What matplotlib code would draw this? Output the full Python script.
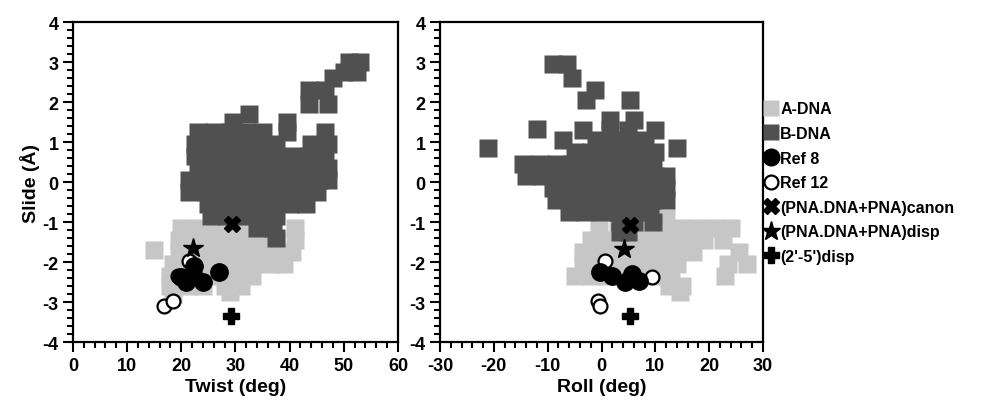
import numpy as np
import matplotlib
matplotlib.use("Agg")
import matplotlib.pyplot as plt
from matplotlib.lines import Line2D

plt.rcParams['font.family'] = ['Liberation Sans', 'DejaVu Sans']
plt.rcParams['font.weight'] = 'bold'
plt.rcParams['axes.unicode_minus'] = False

# ---- left panel: (twist, slide) ----
adna_left = [(20, -1.15), (23, -1.15), (26, -1.15), (29, -1.15), (32, -1.15), (35, -1.15), (41, -1.15),
             (19.5, -1.45), (22.5, -1.45), (25.5, -1.45), (28.5, -1.45), (31.5, -1.45), (34.5, -1.45),
             (37.5, -1.45), (41, -1.45),
             (15, -1.7), (19.5, -1.75), (22.5, -1.75), (25.5, -1.75), (28.5, -1.75), (31.5, -1.75),
             (34.5, -1.75), (37.5, -1.75), (40.5, -1.75),
             (18.5, -2.05), (21.5, -2.05), (24.5, -2.05), (27.5, -2.05), (30.5, -2.05), (33.5, -2.05),
             (36.5, -2.05), (39, -2.05),
             (18, -2.35), (21, -2.35), (24, -2.35), (27, -2.35), (30, -2.35), (33, -2.35),
             (18, -2.6), (21, -2.6), (24, -2.6), (28, -2.6), (31, -2.6),
             (18.5, -2.8), (29, -2.75)]

bdna_left = [(51, 3.0), (53, 3.0), (50, 2.75), (52.5, 2.75), (48, 2.6),
             (43.5, 2.3), (46.5, 2.3), (43.5, 1.95), (47, 1.95),
             (32.5, 1.7), (29.5, 1.5), (39.5, 1.5),
             (23, 1.25), (26, 1.25), (29, 1.25), (32, 1.25), (35, 1.25), (39.5, 1.25), (46.5, 1.25),
             (22.5, 0.95), (25.5, 0.95), (28.5, 0.95), (31.5, 0.95), (34.5, 0.95), (37.5, 0.95),
             (44, 0.95), (47, 0.95),
             (22.5, 0.65), (25.5, 0.65), (28.5, 0.65), (31.5, 0.65), (34.5, 0.65), (37.5, 0.65),
             (40.5, 0.65), (43.5, 0.65), (46.5, 0.65),
             (23, 0.35), (26, 0.35), (29, 0.35), (32, 0.35), (35, 0.35), (38, 0.35), (41, 0.35),
             (44, 0.35), (47, 0.35),
             (21.5, 0.05), (24.5, 0.05), (27.5, 0.05), (30.5, 0.05), (33.5, 0.05), (36.5, 0.05),
             (39.5, 0.05), (42.5, 0.05), (45.5, 0.05), (47, 0.05),
             (21.5, -0.25), (24.5, -0.25), (27.5, -0.25), (30.5, -0.25), (33.5, -0.25), (36.5, -0.25),
             (39.5, -0.25), (42.5, -0.25), (45, -0.25),
             (25, -0.55), (28, -0.55), (31, -0.55), (34, -0.55), (37, -0.55), (40, -0.55), (43, -0.55),
             (25.5, -0.85), (28.5, -0.85), (31.5, -0.85), (34.5, -0.85), (37.5, -0.85),
             (34, -1.15), (37, -1.15), (37.5, -1.4)]

ref8_left = [(19.9, -2.38), (22.2, -2.3), (24, -2.5), (20.9, -2.5), (27, -2.25), (22.4, -2.1)]
ref12_left = [(16.8, -3.1), (18.4, -2.97), (19.4, -2.35), (21.4, -1.98)]
canon_left = [(29.3, -1.05)]
disp_left = [(22.2, -1.65)]
p25_left = [(29.2, -3.35)]

# ---- right panel: (roll, slide) ----
adna_right = [(12, -0.9),
              (-0.5, -1.15), (3, -1.15), (6, -1.15), (9, -1.15), (12, -1.15), (15, -1.15), (18, -1.15),
              (21, -1.15), (24, -1.15),
              (-2, -1.45), (1, -1.45), (4, -1.45), (7, -1.45), (10, -1.45), (13, -1.45), (16, -1.45),
              (19, -1.45), (22.5, -1.45),
              (-3.5, -1.75), (-0.5, -1.75), (2, -1.75), (5, -1.75), (8, -1.75), (11, -1.75), (14, -1.75),
              (17, -1.75), (25.5, -1.75),
              (-3.5, -2.05), (-1, -2.05), (2, -2.05), (5, -2.05), (8, -2.05), (11, -2.05), (14, -2.05),
              (23.5, -2.05), (27, -2.05),
              (-5, -2.35), (-2, -2.35), (1, -2.35), (4, -2.35), (7, -2.35), (10, -2.35), (13, -2.35),
              (23, -2.35),
              (12.5, -2.6), (15, -2.6), (14.5, -2.75)]

bdna_right = [(-9, 2.95), (-6.5, 2.95), (-5.5, 2.6), (-1.2, 2.3), (-2.9, 2.05), (5.3, 2.05),
              (1.5, 1.55), (6, 1.55),
              (-12, 1.33), (-3.5, 1.3), (1.5, 1.3), (5, 1.3), (10, 1.3),
              (-7.2, 1.05), (-1, 1.05), (2, 1.05), (5, 1.05), (8, 1.05),
              (-21, 0.85), (14, 0.85),
              (-5, 0.75), (-2, 0.75), (1, 0.75), (4, 0.75), (7, 0.75), (10, 0.75),
              (-14.5, 0.45), (-11.5, 0.45), (-8.5, 0.45), (-5.5, 0.45), (-2.5, 0.45), (0.5, 0.45),
              (3.5, 0.45), (6.5, 0.45), (9.5, 0.45),
              (-14, 0.15), (-11, 0.15), (-8, 0.15), (-5, 0.15), (-2, 0.15), (1, 0.15), (4, 0.15),
              (7, 0.15), (10, 0.15), (12, 0.15),
              (-9, -0.15), (-6, -0.15), (-3, -0.15), (0, -0.15), (3, -0.15), (6, -0.15), (9, -0.15),
              (12, -0.15),
              (-8.5, -0.45), (-5.5, -0.45), (-2.5, -0.45), (0.5, -0.45), (3.5, -0.45), (6.5, -0.45),
              (9.5, -0.45), (12, -0.45),
              (-6, -0.75), (-3, -0.75), (0, -0.75), (3, -0.75), (6, -0.75), (9, -0.75),
              (3.5, -1.0), (6, -1.0), (9.5, -1.0), (3.5, -1.25), (5, -1.25)]

ref8_right = [(-0.3, -2.25), (1.9, -2.35), (5.6, -2.3), (7, -2.47), (4.4, -2.5)]
ref12_right = [(0.6, -1.97), (9.4, -2.38), (-0.6, -2.97), (-0.2, -3.1)]
canon_right = [(5.3, -1.08)]
disp_right = [(4.1, -1.67)]
p25_right = [(5.3, -3.35)]

A_COL = '#c6c6c6'
B_COL = '#505050'
SQ = 13


def xy(pts):
    a = np.array(pts, dtype=float)
    return a[:, 0], a[:, 1]


def draw(ax, adna, bdna, ref8, ref12, canon, disp, p25):
    ax.plot(*xy(adna), 's', color=A_COL, ms=SQ, mec='none')
    ax.plot(*xy(bdna), 's', color=B_COL, ms=SQ, mec='none')
    ax.plot(*xy(ref12), 'o', mfc='white', mec='black', mew=1.6, ms=10)
    ax.plot(*xy(ref8), 'o', color='black', ms=12.5)
    ax.plot(*xy(canon), 'X', color='black', ms=12)
    ax.plot(*xy(disp), '*', color='black', ms=15)
    ax.plot(*xy(p25), 'P', color='black', ms=12)


def style(ax, xlim, xmajor, xlabel):
    ax.set_xlim(*xlim)
    ax.set_ylim(-4, 4)
    ax.set_xticks(np.arange(xlim[0], xlim[1] + 1, xmajor))
    ax.set_xticks(np.arange(xlim[0], xlim[1] + 1, 2), minor=True)
    ax.set_yticks(np.arange(-4, 5, 1))
    ax.set_yticks(np.arange(-4, 4.01, 0.2), minor=True)
    ax.tick_params(which='both', direction='out', width=1.5, labelsize=13, top=False, right=False)
    ax.tick_params(which='major', length=7)
    ax.tick_params(which='minor', length=4)
    for s in ax.spines.values():
        s.set_linewidth(1.6)
    for lab in ax.get_xticklabels() + ax.get_yticklabels():
        lab.set_fontweight('bold')
    ax.set_xlabel(xlabel, fontsize=14, fontweight='bold', labelpad=3)


fig = plt.figure(figsize=(9.89, 4.10), dpi=100)
ax1 = fig.add_axes([0.0738, 0.1634, 0.3286, 0.7805])
ax2 = fig.add_axes([0.4449, 0.1634, 0.3266, 0.7805])

draw(ax1, adna_left, bdna_left, ref8_left, ref12_left, canon_left, disp_left, p25_left)
draw(ax2, adna_right, bdna_right, ref8_right, ref12_right, canon_right, disp_right, p25_right)
style(ax1, (0, 60), 10, 'Twist (deg)')
style(ax2, (-30, 30), 10, 'Roll (deg)')
ax1.set_ylabel('Slide (Å)', fontsize=14, fontweight='bold', labelpad=2)

handles = [
    Line2D([], [], ls='none', marker='s', color=A_COL, ms=11, mec='none'),
    Line2D([], [], ls='none', marker='s', color=B_COL, ms=11, mec='none'),
    Line2D([], [], ls='none', marker='o', color='black', ms=12),
    Line2D([], [], ls='none', marker='o', mfc='white', mec='black', mew=1.6, ms=10),
    Line2D([], [], ls='none', marker='X', color='black', ms=12),
    Line2D([], [], ls='none', marker='*', color='black', ms=14),
    Line2D([], [], ls='none', marker='P', color='black', ms=12),
]
labels = ['A-DNA', 'B-DNA', 'Ref 8', 'Ref 12', '(PNA.DNA+PNA)canon',
          '(PNA.DNA+PNA)disp', "(2'-5')disp"]
fig.legend(handles, labels, loc='center left', bbox_to_anchor=(0.772, 0.552),
           frameon=False, handlelength=0.9, handletextpad=0.15, labelspacing=0.6,
           borderpad=0, borderaxespad=0, prop={'weight': 'bold', 'size': 11.5})

fig.savefig('out.png', dpi=100)
